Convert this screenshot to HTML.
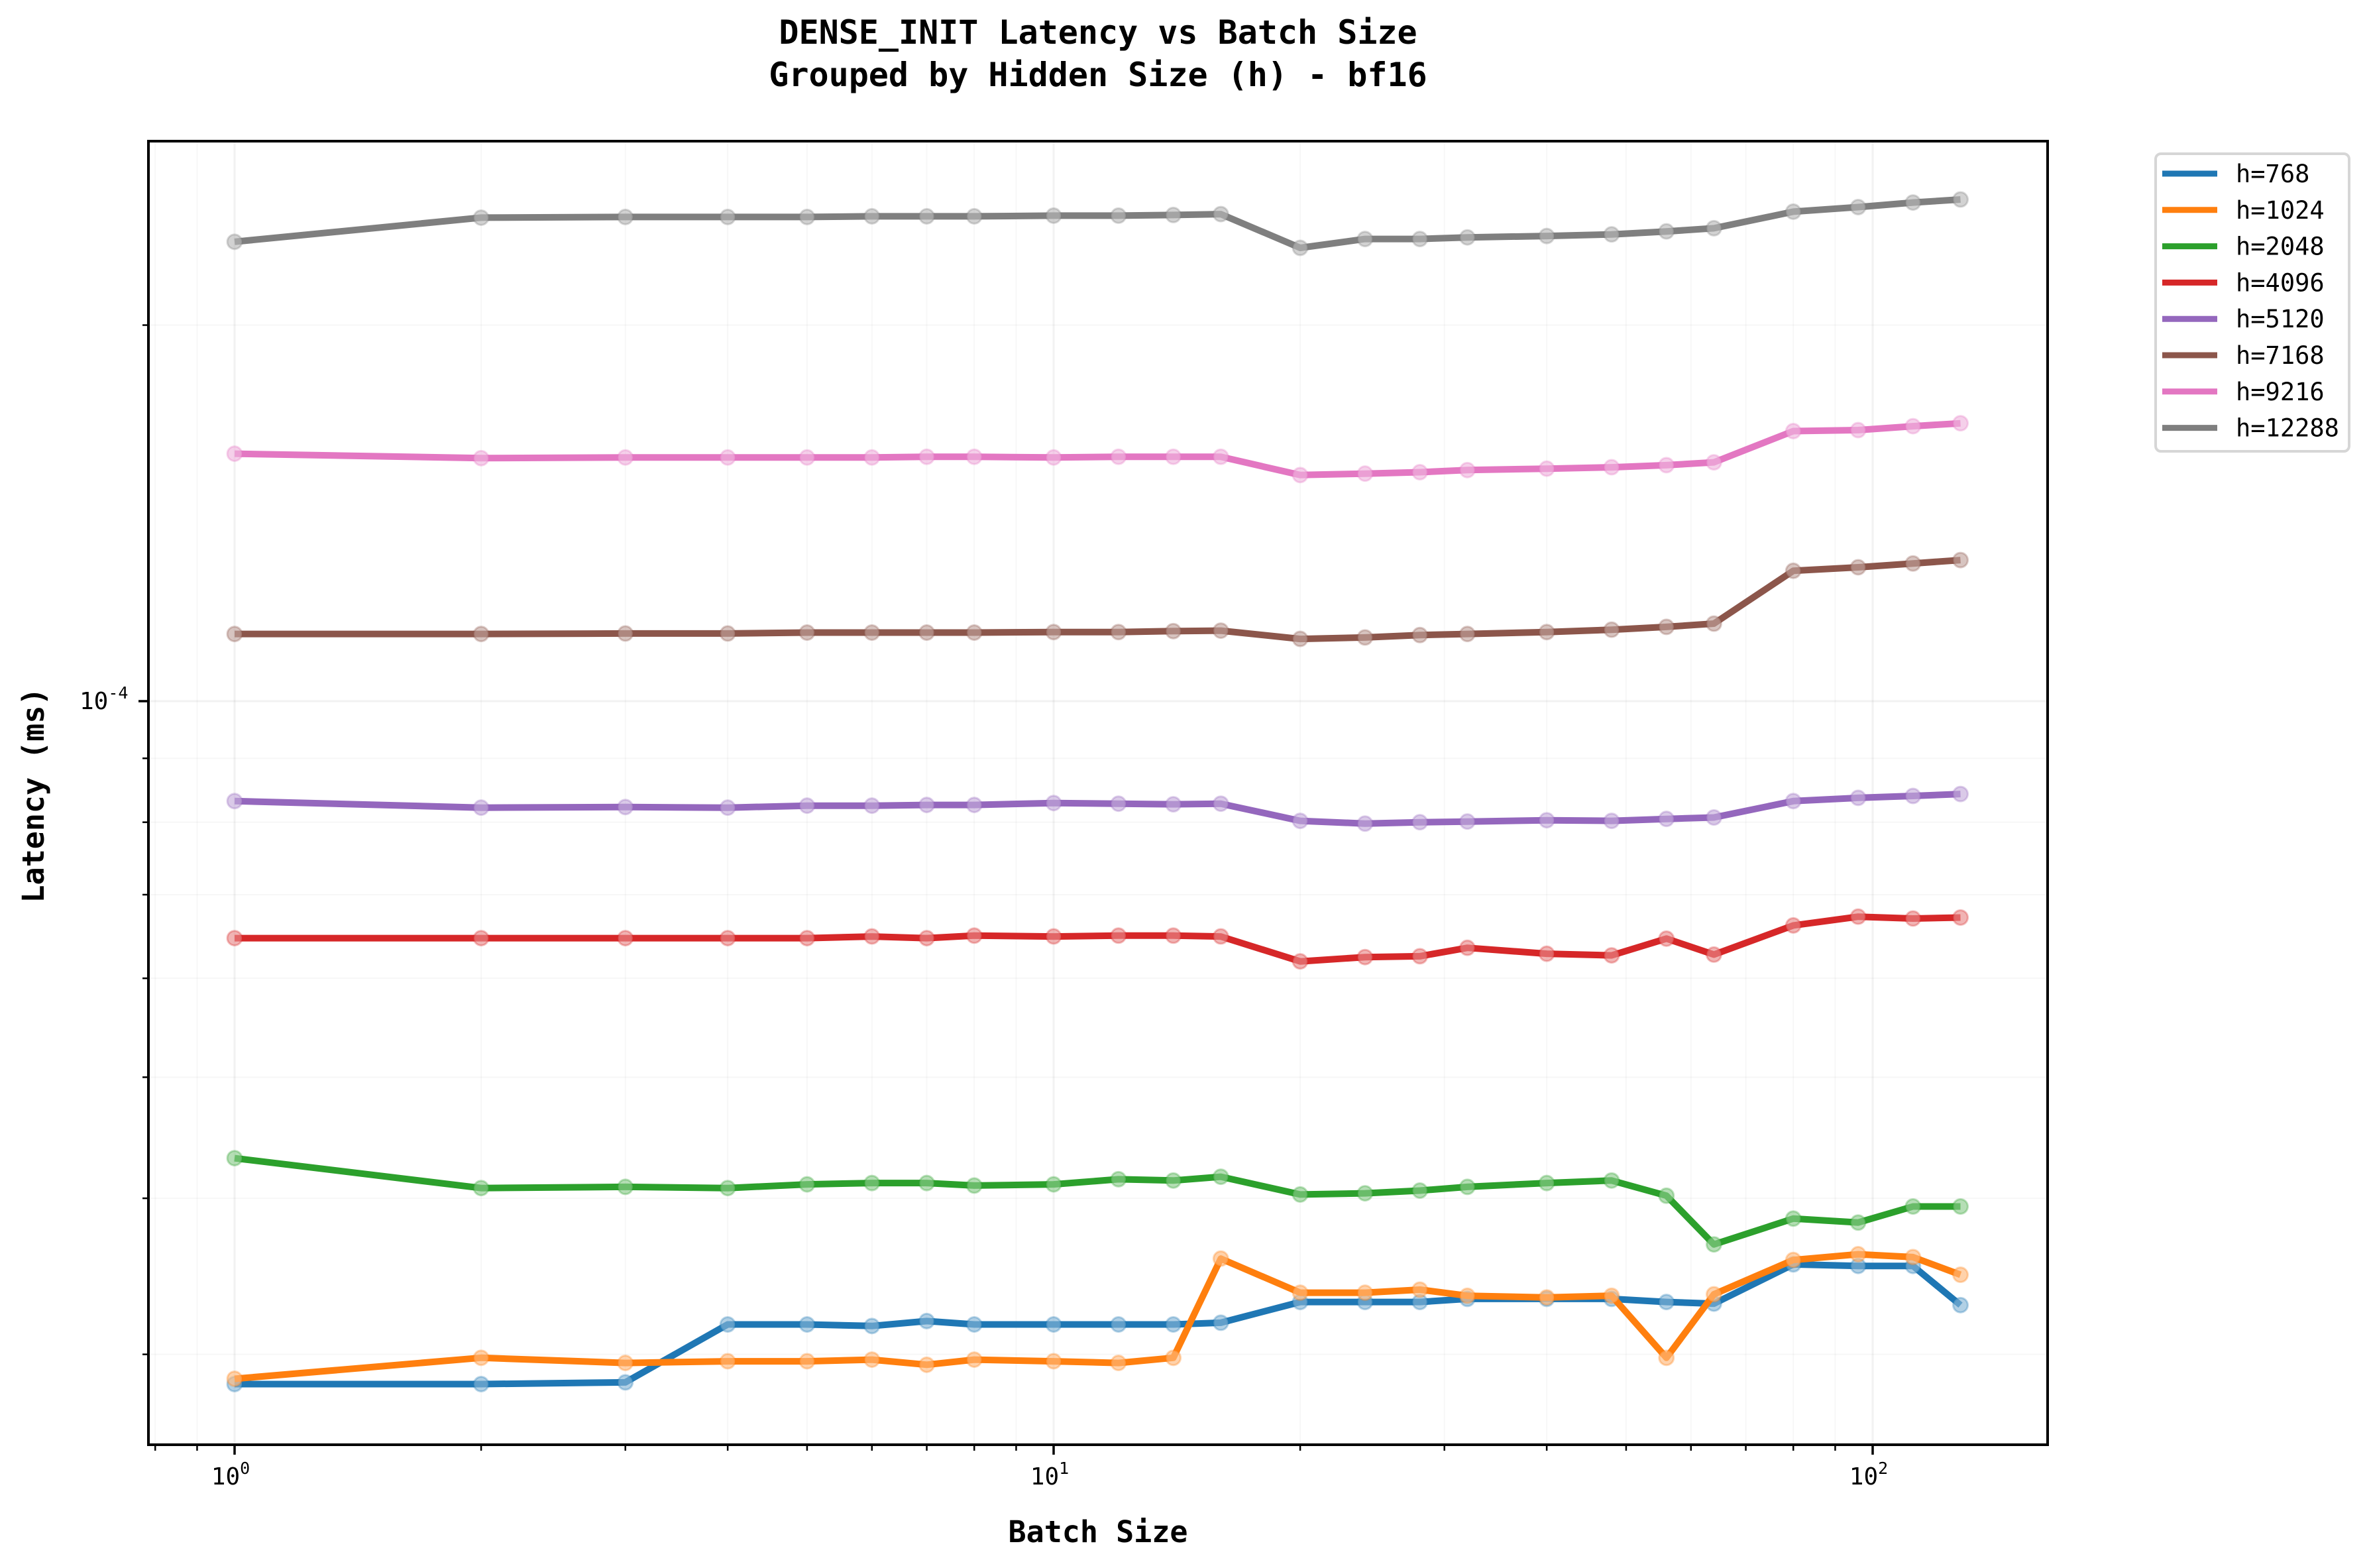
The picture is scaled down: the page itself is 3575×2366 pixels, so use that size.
<!DOCTYPE html>
<html><head><meta charset="utf-8"><style>
html,body{margin:0;padding:0;background:#fff;}
svg{display:block;}
text{font-family:"DejaVu Sans Mono","Liberation Mono",monospace;}
</style></head><body>
<svg id="chart" width="3575" height="2366" viewBox="0 0 3575 2366" xmlns="http://www.w3.org/2000/svg">
<rect width="3575" height="2366" fill="#fff"/>
<text x="1657" y="66" text-anchor="middle" font-size="50" font-weight="bold">DENSE_INIT Latency vs Batch Size</text>
<text x="1657" y="130" text-anchor="middle" font-size="50" font-weight="bold">Grouped by Hidden Size (h) - bf16</text>
<g id="grid"></g>
<g id="series"></g>
<g id="axes"></g>
<text x="1657" y="2327" text-anchor="middle" font-size="45" font-weight="bold">Batch Size</text>
<text x="0" y="0" transform="translate(66,1200) rotate(-90)" text-anchor="middle" font-size="45" font-weight="bold">Latency (ms)</text>
<g id="legend"></g>
</svg>
<script>
const batchSizes = [1,2,3,4,5,6,7,8,10,12,14,16,20,24,28,32,40,48,56,64,80,96,112,128];
const seriesNames = ["h=768","h=1024","h=2048","h=4096","h=5120","h=7168","h=9216","h=12288"];
const seriesColors = ["#1f77b4","#ff7f0e","#2ca02c","#d62728","#9467bd","#8c564b","#e377c2","#7f7f7f"];
const h768 = [0.2840,0.2840,0.2849,0.3170,0.3170,0.3161,0.3190,0.3170,0.3170,0.3170,0.3170,0.3180,0.3304,0.3304,0.3304,0.3323,0.3323,0.3323,0.3304,0.3294,0.3541,0.3531,0.3531,0.3285];
const h1024 = [0.2868,0.2981,0.2953,0.2962,0.2962,0.2971,0.2943,0.2971,0.2962,0.2953,0.2981,0.3579,0.3361,0.3361,0.3380,0.3342,0.3332,0.3342,0.2981,0.3351,0.3570,0.3608,0.3589,0.3474];
const h2048 = [0.4307,0.4076,0.4085,0.4076,0.4104,0.4114,0.4114,0.4095,0.4104,0.4143,0.4133,0.4162,0.4028,0.4037,0.4057,0.4085,0.4114,0.4133,0.4019,0.3674,0.3853,0.3825,0.3940,0.3940];
const h4096 = [0.6461,0.6461,0.6461,0.6461,0.6461,0.6481,0.6461,0.6491,0.6481,0.6491,0.6491,0.6481,0.6190,0.6239,0.6249,0.6347,0.6278,0.6259,0.6455,0.6268,0.6614,0.6722,0.6699,0.6711];
const h5120 = [0.8318,0.8218,0.8227,0.8218,0.8248,0.8248,0.8259,0.8259,0.8288,0.8278,0.8269,0.8278,0.8020,0.7980,0.8000,0.8010,0.8029,0.8020,0.8049,0.8070,0.8318,0.8368,0.8397,0.8427];
const h7168 = [1.1318,1.1318,1.1328,1.1328,1.1348,1.1348,1.1348,1.1348,1.1358,1.1358,1.1378,1.1388,1.1216,1.1246,1.1295,1.1318,1.1358,1.1408,1.1467,1.1536,1.2716,1.2799,1.2889,1.2970];
const h9216 = [1.578,1.565,1.567,1.567,1.567,1.567,1.569,1.569,1.567,1.569,1.569,1.569,1.517,1.521,1.525,1.531,1.535,1.539,1.545,1.553,1.645,1.648,1.660,1.669];
const h12288 = [2.332,2.438,2.441,2.441,2.441,2.444,2.444,2.444,2.447,2.447,2.450,2.454,2.306,2.344,2.344,2.351,2.357,2.364,2.377,2.391,2.465,2.486,2.507,2.521];
const seriesValues = [h768,h1024,h2048,h4096,h5120,h7168,h9216,h12288]; // in units of 1e-4 ms
const valueScale = 1e-4;

const NS = "http://www.w3.org/2000/svg";
const L = 224, R = 3090, T = 213, B = 2180;
function xPos(b){ return 354 + 1236*Math.log10(b); }
function yPos(v){ return 1058 - 1885*Math.log10(v/1e-4); }
function mk(tag, attrs, parent){ const e=document.createElementNS(NS,tag); for(const k in attrs) e.setAttribute(k,attrs[k]); parent.appendChild(e); return e; }

const grid = document.getElementById('grid');
const axes = document.getElementById('axes');
for (let d=-1; d<=2; d++){
  for (let m=1; m<=9; m++){
    const v = m*Math.pow(10,d);
    const x = xPos(v);
    if (x < L || x > R) continue;
    const major = m===1;
    const gl = mk('line',{x1:x,x2:x,y1:T,y2:B,stroke:'#000','stroke-opacity':major?0.05:0.03,'stroke-width':major?3:2},grid);
    
    
    const t = mk('line',{x1:x,x2:x,y1:B,y2:B+(major?15:9),stroke:'#000','stroke-width':major?3.5:2.5},axes);
    
    
    if (major){
      const tx = mk('text',{x:x-6,y:B+60,'text-anchor':'middle','font-size':36},axes);
      
      
      tx.textContent='10';
      const sp = mk('tspan',{dy:-16,'font-size':25},tx);
      sp.textContent=String(d);
    }
  }
}
for (let d=-5; d<=-3; d++){
  for (let m=1; m<=9; m++){
    const v = m*Math.pow(10,d);
    const y = yPos(v);
    if (y < T || y > B) continue;
    const major = m===1;
    const gl = mk('line',{x1:L,x2:R,y1:y,y2:y,stroke:'#000','stroke-opacity':major?0.05:0.03,'stroke-width':major?3:2},grid);
    
    
    const t = mk('line',{x1:L-(major?15:9),x2:L,y1:y,y2:y,stroke:'#000','stroke-width':major?3.5:2.5},axes);
    
    
    if (major){
      const tx = mk('text',{x:120,y:y+12,'text-anchor':'start','font-size':36},axes);
      
      
      tx.textContent='10';
      const sp = mk('tspan',{dy:-16,'font-size':25},tx);
      sp.textContent=String(d);
    }
  }
}
const frame = mk('rect',{x:L,y:T,width:R-L,height:B-T,fill:'none',stroke:'#000','stroke-width':4},axes);



const sg = document.getElementById('series');
seriesValues.forEach((vals,i)=>{
  const g = mk('g',{},sg);
  
  
  const pts = vals.map((v,j)=>xPos(batchSizes[j]).toFixed(1)+','+yPos(v*valueScale).toFixed(1)).join(' ');
  const pl = mk('polyline',{points:pts,fill:'none',stroke:seriesColors[i],'stroke-width':10,'stroke-linejoin':'round'},g);
  
  
  vals.forEach((v,j)=>{
    const cx = xPos(batchSizes[j]), cy = yPos(v*valueScale);
    const w = mk('circle',{cx:cx,cy:cy,r:11,fill:'#fff','fill-opacity':0.45},g);
    
    
    const c = mk('circle',{cx:cx,cy:cy,r:11,fill:seriesColors[i],'fill-opacity':0.35,stroke:seriesColors[i],'stroke-opacity':0.3,'stroke-width':3},g);
    
    
  });
});

const lg = document.getElementById('legend');
const box = mk('rect',{x:3253,y:232,width:292,height:449,rx:8,fill:'#fff',stroke:'#d6d6d6','stroke-width':4},lg);


seriesNames.forEach((n,i)=>{
  const y = 262 + i*54.8;
  const g = mk('g',{},lg);
  
  
  mk('line',{x1:3263,x2:3346,y1:y,y2:y,stroke:seriesColors[i],'stroke-width':9},g);
  const t = mk('text',{x:3374,y:y+13,'font-size':37},g);
  t.textContent = n;
});
</script>
</body></html>
